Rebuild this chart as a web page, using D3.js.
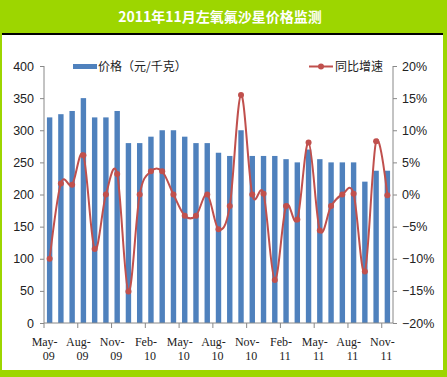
<!DOCTYPE html>
<html>
<head>
<meta charset="utf-8">
<script src="https://cdn.jsdelivr.net/npm/d3@7"></script>
<style>
  body { margin: 0; background: #fff; }
  svg { display: block; }
</style>
</head>
<body>
<div id="chart"></div>
<script>
// months May-09 .. Nov-11
var months = ["May-09","Jun-09","Jul-09","Aug-09","Sep-09","Oct-09","Nov-09","Dec-09",
  "Jan-10","Feb-10","Mar-10","Apr-10","May-10","Jun-10","Jul-10","Aug-10","Sep-10","Oct-10",
  "Nov-10","Dec-10","Jan-11","Feb-11","Mar-11","Apr-11","May-11","Jun-11","Jul-11","Aug-11",
  "Sep-11","Oct-11","Nov-11"];
var price = [320,325,330,350,320,320,330,280,280,290,300,300,290,280,280,265,260,300,
  260,260,260,255,250,270,255,250,250,250,220,237,237];
var growth = [-10,1.7,1.5,6.1,-8.5,0,3.2,-15.1,0,3.6,3.6,0,-3.3,-3.3,0,-5.4,-1.8,15.5,
  0,0.1,-13.3,-1.8,-3.9,8.1,-5.6,-1.8,0,0.1,-12,8.3,-0.1];
var leftTicks = [0,50,100,150,200,250,300,350,400];
var rightTicks = [-20,-15,-10,-5,0,5,10,15,20];
var title = "2011年11月左氧氟沙星价格监测";

var width = 447, height = 377;
var green = "#9dd600";
var svg = d3.select("#chart").append("svg")
    .attr("width", width)
    .attr("height", height);

// frame
svg.append("rect").attr("width", width).attr("height", height).attr("fill", green);
svg.append("rect").attr("x", 2).attr("y", 33).attr("width", 441).attr("height", 337).attr("fill", "#fff");
svg.append("rect").attr("x", 2).attr("y", 33).attr("width", 441).attr("height", 2).attr("fill", "#000");

svg.append("text")
    .attr("x", 220).attr("y", 22)
    .attr("text-anchor", "middle")
    .attr("fill", "#fff")
    .style("font-family", "'Noto Sans CJK SC', sans-serif")
    .style("font-size", "14px")
    .style("font-weight", "bold")
    .text(title);

var pLeft = 44, pRight = 393, pTop = 66, pBottom = 323;

var xc = d3.scaleBand().domain(months).range([pLeft, pRight]);
var y = d3.scaleLinear().domain([0, 400]).range([pBottom, pTop]);
var y2 = d3.scaleLinear().domain([-20, 20]).range([pBottom, pTop]);

var axisFont = "'Liberation Sans', Arial, sans-serif";

function cx(i) { return xc(months[i]) + xc.bandwidth() / 2; }

// bars
svg.append("g").selectAll("rect")
    .data(price)
    .enter().append("rect")
    .attr("x", function (d, i) { return cx(i) - 2.7; })
    .attr("width", 5.4)
    .attr("y", function (d) { return y(d); })
    .attr("height", function (d) { return y(0) - y(d); })
    .attr("fill", "#4f81bd");

// left axis
var gl = svg.append("g")
    .attr("transform", "translate(" + pLeft + ",0)")
    .call(d3.axisLeft(y).tickValues(leftTicks).tickSize(4).tickPadding(6));
gl.select(".domain").attr("stroke", "#888").attr("d", "M0," + pTop + "V" + pBottom);
gl.selectAll(".tick line").attr("stroke", "#888");
gl.selectAll("text").style("font-family", axisFont).style("font-size", "12.5px").attr("fill", "#222");

// right axis
var gr = svg.append("g")
    .attr("transform", "translate(" + pRight + ",0)")
    .call(d3.axisRight(y2).tickValues(rightTicks).tickSize(4).tickPadding(5)
        .tickFormat(function (d) { return (d < 0 ? "\u2212" + (-d) : d) + "%"; }));
gr.select(".domain").attr("stroke", "#888").attr("d", "M0," + pTop + "V" + pBottom);
gr.selectAll(".tick line").attr("stroke", "#888");
gr.selectAll("text").style("font-family", axisFont).style("font-size", "12.5px").attr("fill", "#222");

// bottom axis
svg.append("line")
    .attr("x1", pLeft).attr("x2", pRight).attr("y1", pBottom).attr("y2", pBottom)
    .attr("stroke", "#888");
var tickIdx = d3.range(0, months.length + 1, 3);
svg.append("g").selectAll("line")
    .data(tickIdx)
    .enter().append("line")
    .attr("x1", function (i) { return pLeft + i * xc.step(); })
    .attr("x2", function (i) { return pLeft + i * xc.step(); })
    .attr("y1", pBottom).attr("y2", pBottom + 5)
    .attr("stroke", "#888");

var lab = svg.append("g").selectAll("text")
    .data(months.filter(function (m, i) { return i % 3 === 0; }))
    .enter().append("text")
    .attr("text-anchor", "middle")
    .style("font-family", "'Liberation Serif', serif")
    .style("font-size", "12px")
    .attr("fill", "#222");
lab.append("tspan")
    .attr("x", function (d) { return xc(d) + xc.bandwidth() / 2 - 5; })
    .attr("y", 346)
    .text(function (d) { return d.split("-")[0] + "-"; });
lab.append("tspan")
    .attr("x", function (d) { return xc(d) + xc.bandwidth() / 2 - 1; })
    .attr("y", 360)
    .text(function (d) { return d.split("-")[1]; });

// line
var line = d3.line()
    .x(function (d, i) { return cx(i); })
    .y(function (d) { return y2(d); })
    .curve(d3.curveCardinal.tension(0));
svg.append("path")
    .datum(growth)
    .attr("d", line)
    .attr("fill", "none")
    .attr("stroke", "#c0504d")
    .attr("stroke-width", 2);
svg.append("g").selectAll("circle")
    .data(growth)
    .enter().append("circle")
    .attr("cx", function (d, i) { return cx(i); })
    .attr("cy", function (d) { return y2(d); })
    .attr("r", 3)
    .attr("fill", "#c0504d");

// legend
var cjk = "'Noto Sans CJK SC', sans-serif";
svg.append("rect").attr("x", 73).attr("y", 64).attr("width", 24).attr("height", 5).attr("fill", "#4f81bd");
svg.append("text").attr("x", 98).attr("y", 71)
    .style("font-family", cjk).style("font-size", "12px").attr("fill", "#222")
    .text("价格（元/千克）");
svg.append("line").attr("x1", 309).attr("x2", 333).attr("y1", 66.5).attr("y2", 66.5)
    .attr("stroke", "#c0504d").attr("stroke-width", 2);
svg.append("circle").attr("cx", 321).attr("cy", 66.5).attr("r", 3).attr("fill", "#c0504d");
svg.append("text").attr("x", 335).attr("y", 71)
    .style("font-family", cjk).style("font-size", "12px").attr("fill", "#222")
    .text("同比增速");
</script>
</body>
</html>
